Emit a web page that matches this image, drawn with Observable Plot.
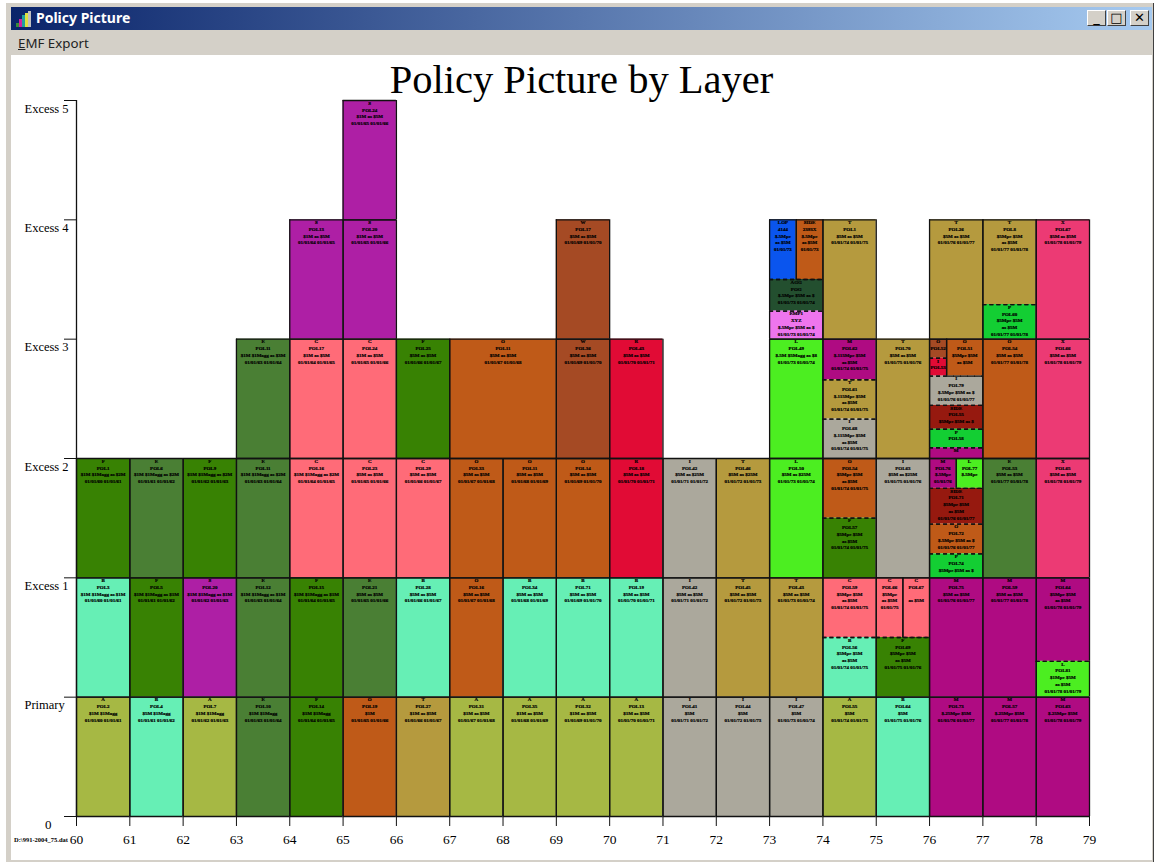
<!DOCTYPE html>
<html><head><meta charset="utf-8">
<script src="https://cdn.jsdelivr.net/npm/d3@7"></script>
<script src="https://cdn.jsdelivr.net/npm/@observablehq/plot@0.6"></script>
<style>
html,body{margin:0;padding:0;background:#fff;overflow:hidden}
#page{position:relative;width:1158px;height:863px;overflow:hidden;background:#fff}
.abs{position:absolute}
#win{left:6px;top:3px;width:1148px;height:859px;background:#D4D0C8;border-right:1px solid #404040;box-sizing:border-box}
#bar{left:11px;top:7px;width:1141px;height:23px;background:linear-gradient(90deg,#0A246A,#A6CAF0)}
#cap{left:36px;top:9px;color:#fff;font:bold 14px "Noto Sans",sans-serif;line-height:18px;white-space:nowrap}
#menu{left:18px;top:35px;font:13.3px "Noto Sans",sans-serif;color:#222;line-height:17px}
#client{left:11px;top:55px;width:1141px;height:805px;background:#fff}
#title{left:11px;top:56px;width:1141px;text-align:center;font:40.5px "Liberation Serif",serif;line-height:48px;color:#000}
#foot{left:14px;top:836px;font:bold 6.5px "Liberation Serif",serif;color:#000;white-space:nowrap}
.btn{top:10px;width:19px;height:16px;background:#D4D0C8;border:1px solid;border-color:#fff #404040 #404040 #fff;box-sizing:border-box;font:bold 13px "DejaVu Sans",sans-serif;line-height:14px;text-align:center;color:#000}
.ic{bottom:0;width:3px}
</style></head><body>
<div id="page">
<div class="abs" id="win"></div>
<div class="abs" id="bar"></div>
<div class="abs" style="left:16px;top:10px;width:15px;height:17px">
<div class="abs ic" style="left:0;height:4px;background:#3a8a3a"></div>
<div class="abs ic" style="left:3px;height:8px;background:#d020a0"></div>
<div class="abs ic" style="left:6px;height:12px;background:#20a0a0"></div>
<div class="abs ic" style="left:9px;height:14px;background:#e0e040"></div>
<div class="abs ic" style="left:12px;height:16px;background:#c0c0c0"></div>
</div>
<div class="abs" id="cap">Policy Picture</div>
<div class="abs btn" style="left:1087px">_</div>
<div class="abs btn" style="left:1107px">□</div>
<div class="abs btn" style="left:1130px">✕</div>
<div class="abs" id="menu"><u>E</u>MF Export</div>
<div class="abs" id="client"></div>
<div class="abs" id="title">Policy Picture by Layer</div>
<div class="abs" id="foot">D:\991-2004_75.dat</div>
<div id="chart"></div>
</div>
<script>
// Category → colour
const categoryKeys = ["A","B","C","E","F","I","L","M","O","P","R","S","T","X","W","U","D","V","Z"];
const categoryColors = ["#A6B844","#66EFB5","#FF6B78","#4A7F34","#388203","#ABA89C","#4CEE21","#AF0B82","#BF5A18","#13CE33","#E10B35","#AE1FA5","#B59A3E","#EC3A74","#A54A24","#0A55EE","#234F2F","#EE75EE","#96190F"];

// Layer tick labels
const layerTicks = [1,2,3,4,5,6];
const layerLabels = ["Primary","Excess 1","Excess 2","Excess 3","Excess 4","Excess 5"];
const yearTicks = [60,61,62,63,64,65,66,67,68,69,70,71,72,73,74,75,76,77,78,79];

// Rows: from year, to year, bottom, top, category, heading, policy, terms, dated
const primaryLayer = [
 [60,61,0,1,"A","A","POL2","$1M $1Magg",1],[61,62,0,1,"B","B","POL4","$5M $1Magg",1],[62,63,0,1,"A","A","POL7","$1M $1Magg",1],
 [63,64,0,1,"E","E","POL10","$1M $1Magg",1],[64,65,0,1,"F","F","POL14","$1M $1Magg",1],[65,66,0,1,"O","O","POL19","$1M",1],
 [66,67,0,1,"T","T","POL27","$1M xs $5M",1],[67,68,0,1,"A","A","POL31","$1M xs $5M",1],[68,69,0,1,"A","A","POL35","$1M xs $5M",1],
 [69,70,0,1,"A","A","POL32","$1M xs $5M",1],[70,71,0,1,"A","A","POL13","$1M xs $5M",1],[71,72,0,1,"I","I","POL41","$5M",1],
 [72,73,0,1,"I","I","POL44","$5M",1],[73,74,0,1,"I","I","POL47","$5M",1],[74,75,0,1,"A","A","POL55","$5M",1],
 [75,76,0,1,"B","B","POL64","$5M",1],[76,77,0,1,"M","M","POL73","$.25Mpe $5M",1],[77,78,0,1,"M","M","POL57","$.25Mpe $5M",1],
 [78,79,0,1,"M","M","POL63","$.25Mpe $5M",1]
];
const excessOne = [
 [60,61,1,2,"B","B","POL3","$1M $1Magg xs $1M",1],[61,62,1,2,"F","F","POL5","$1M $1Magg xs $1M",1],[62,63,1,2,"S","S","POL20","$1M $1Magg xs $1M",1],
 [63,64,1,2,"E","E","POL12","$1M $1Magg xs $1M",1],[64,65,1,2,"F","F","POL15","$1M $1Magg xs $1M",1],[65,66,1,2,"E","E","POL21","$5M xs $5M",1],
 [66,67,1,2,"B","B","POL28","$5M xs $5M",1],[67,68,1,2,"O","O","POL16","$5M xs $5M",1],[68,69,1,2,"B","B","POL34","$5M xs $5M",1],
 [69,70,1,2,"B","B","POL71","$5M xs $5M",1],[70,71,1,2,"B","B","POL19","$5M xs $5M",1],[71,72,1,2,"I","I","POL42","$5M xs $5M",1],
 [72,73,1,2,"T","T","POL45","$5M xs $5M",1],[73,74,1,2,"T","T","POL43","$5M xs $5M",1],
 [74,75,1.5,2,"C","C","POL59","$5Mpe $5M\nxs $5M",1],[74,75,1,1.5,"B","B","POL56","$5Mpe $5M\nxs $5M",1],
 [75,75.5,1.5,2,"C","C","POL66","$5Mpe\nxs $5M",1],[75.5,76,1.5,2,"C","C","POL67","\nxs $5M",0],[75,76,1,1.5,"F","F","POL69","$5Mpe $5M\nxs $5M",1],
 [76,77,1,2,"M","M","POL75","$5M xs $5M",1],[77,78,1,2,"M","M","POL59","$5M xs $5M",1],
 [78,79,1.3,2,"M","M","POL64","$5Mpe $5M\nxs $5M",1],[78,79,1,1.3,"L","L","POL81","$1Mpe $5M\nxs $5M",1]
];
const excessTwo = [
 [60,61,2,3,"F","F","POL1","$1M $1Magg xs $2M",1],[61,62,2,3,"E","E","POL6","$1M $1Magg xs $2M",1],[62,63,2,3,"F","F","POL9","$1M $1Magg xs $2M",1],
 [63,64,2,3,"E","E","POL11","$1M $1Magg xs $2M",1],[64,65,2,3,"C","C","POL16","$1M $1Magg xs $2M",1],[65,66,2,3,"C","C","POL23","$5M xs $5M",1],
 [66,67,2,3,"C","C","POL29","$5M xs $5M",1],[67,68,2,3,"O","O","POL33","$5M xs $5M",1],[68,69,2,3,"O","O","POL11","$5M xs $5M",1],
 [69,70,2,3,"O","O","POL14","$5M xs $5M",1],[70,71,2,3,"R","R","POL18","$5M xs $5M",1],[71,72,2,3,"I","I","POL42","$5M xs $25M",1],
 [72,73,2,3,"T","T","POL46","$5M xs $25M",1],[73,74,2,3,"L","L","POL50","$5M xs $25M",1],
 [74,75,2.5,3,"O","O","POL54","$5Mpe $5M\nxs $5M",1],[74,75,2,2.5,"F","F","POL57","$5Mpe $5M\nxs $5M",1],[75,76,2,3,"I","I","POL63","$5M xs $25M",1],
 [76,76.5,2.75,3,"M","M","POL76","$.5Mpe",1],[76.5,77,2.75,3,"L","L","POL77","$.5Mpe",0],
 [76,77,2.45,2.75,"Z","SIDE","POL71","$5Mpe $5M\nxs $5M",1],[76,77,2.2,2.45,"O","O","POL72","$.5Mpe $5M xs $",1],[76,77,2,2.2,"P","P","POL74","$5Mpe $5M xs $",0],
 [77,78,2,3,"E","E","POL53","$5M xs $5M",1],[78,79,2,3,"X","X","POL65","$5M xs $5M",1]
];
const excessThree = [
 [63,64,3,4,"E","E","POL11","$1M $1Magg xs $3M",1],[64,65,3,4,"C","C","POL17","$1M xs $5M",1],[65,66,3,4,"C","C","POL24","$1M xs $5M",1],
 [66,67,3,4,"F","F","POL25","$5M xs $5M",1],[67,69,3,4,"O","O","POL11","$5M xs $5M",1],[69,70,3,4,"W","W","POL36","$5M xs $5M",1],
 [70,71,3,4,"R","R","POL43","$5M xs $5M",1],[73,74,3,4,"L","L","POL49","$.5M $5Magg xs $8",1],
 [74,75,3.66,4,"M","M","POL62","$.115Mpe $5M\nxs $5M",1],[74,75,3.33,3.66,"T","T","POL61","$.115Mpe $5M\nxs $5M",1],[74,75,3,3.33,"I","I","POL68","$.115Mpe $5M\nxs $5M",1],
 [75,76,3,4,"T","T","POL70","$5M xs $5M",1],
 [76,76.32,3.84,4,"W","O","POL52","",0],[76,76.32,3.69,3.84,"R","I","POL53","",0],[76.32,77,3.69,4,"O","O","POL51","$5Mpe $5M\nxs $5M",0],
 [76,77,3.445,3.69,"I","I","POL79","$.5Mpe $5M xs $",1],[76,77,3.245,3.445,"Z","SIDE","POL55","$5Mpe $5M xs $",0],[76,77,3.09,3.245,"P","P","POL58","",0],[76,77,3,3.09,"M","M","","",0],
 [77,78,3,4,"O","O","POL54","$5M xs $5M",1],[78,79,3,4,"X","X","POL66","$5M xs $5M",1]
];
const excessFour = [
 [64,65,4,5,"S","S","POL13","$1M xs $5M",1],[65,66,4,5,"S","S","POL20","$1M xs $5M",1],[69,70,4,5,"W","W","POL17","$5M xs $5M",1],
 [73,73.5,4.5,5,"U","LOP\n4144","","$.5Mpe\nxs $5M",1],[73.5,74,4.5,5,"O","SIDE\n2393X","","$.5Mpe\nxs $5M",1],
 [73,74,4.235,4.5,"D","AGG\nPOG","","$.5Mpe $5M xs $",1],[73,74,4,4.235,"V","EMP1\nXYZ","","$.5Mpe $5M xs $",1],
 [74,75,4,5,"T","T","POL1","$5M xs $5M",1],[76,77,4,5,"T","T","POL26","$5M xs $5M",1],
 [77,78,4.29,5,"T","T","POL8","$5Mpe $5M\nxs $5M",1],[77,78,4,4.29,"P","P","POL60","$5Mpe $5M\nxs $5M",1],[78,79,4,5,"X","X","POL67","$5M xs $5M",1]
];
const excessFive = [
 [65,66,5,6,"S","S","POL24","$1M xs $5M",1]
];

const cells = [primaryLayer,excessOne,excessTwo,excessThree,excessFour,excessFive].flat().map(([x0,x1,y0,y1,cat,head,pol,terms,dated]) => {
  const full = x1 - x0 >= 1;
  const dates = dated ? (full ? `01/01/${x0|0} 01/01/${(x0|0)+1}` : `01/01/${x0|0}`) : "";
  return {x0,x1,y0,y1,cat,label:[head,pol,terms,dates].filter(s => s!=="").join("\n")};
});
const horizontal = cells.flatMap(c => [{y:c.y0,x1:c.x0,x2:c.x1},{y:c.y1,x1:c.x0,x2:c.x1}]);
const whole = horizontal.filter(e => Number.isInteger(e.y));
const split = horizontal.filter(e => !Number.isInteger(e.y));
const ink = "#111";

const chart = Plot.plot({
  width:1158, height:863,
  marginLeft:76, marginRight:69, marginTop:100, marginBottom:47,
  x:{domain:[60,79]},
  y:{domain:[0,6]},
  color:{type:"ordinal",domain:categoryKeys,range:categoryColors},
  style:{position:"absolute",left:"0",top:"0",background:"transparent",maxWidth:"none"},
  marks:[
    Plot.rect(cells,{x1:"x0",x2:"x1",y1:"y0",y2:"y1",fill:"cat"}),
    Plot.ruleX(cells,{x:"x0",y1:"y0",y2:"y1",stroke:ink,strokeWidth:1.3}),
    Plot.ruleX(cells,{x:"x1",y1:"y0",y2:"y1",stroke:ink,strokeWidth:1.3}),
    Plot.ruleY(whole,{y:"y",x1:"x1",x2:"x2",stroke:ink,strokeWidth:1.3}),
    Plot.ruleY(split,{y:"y",x1:"x1",x2:"x2",stroke:ink,strokeWidth:1.3,strokeDasharray:"4,3"}),
    Plot.text(cells,{x:d=>(d.x0+d.x1)/2,y:"y1",text:"label",lineAnchor:"top",dy:-0.5,lineHeight:1.35,
      fontSize:5,fontWeight:"bold",fontFamily:"Liberation Serif",fill:"#000",stroke:"#000",strokeWidth:0.2}),
    Plot.ruleX([60],{y1:0,y2:6,stroke:ink,strokeWidth:1.3}),
    Plot.axisX({ticks:yearTicks,tickFormat:d=>String(d),tickSize:10,tickPadding:8,fontSize:13.5,
      fontFamily:"Liberation Serif",label:null,stroke:ink,fill:"#000"}),
    Plot.axisY({ticks:[0,...layerTicks],tickFormat:()=>"",tickSize:12,label:null,stroke:ink}),
    Plot.text(layerTicks,{x:()=>60,y:d=>d,text:d=>layerLabels[d-1],dx:-52,dy:8,fontSize:12.5,textAnchor:"start",
      fontFamily:"Liberation Serif",fill:"#000"}),
    Plot.text([0],{x:()=>60,y:d=>d,text:d=>String(d),dx:-25,dy:8,fontSize:13,textAnchor:"end",
      fontFamily:"Liberation Serif",fill:"#000"})
  ]
});
document.getElementById("chart").append(chart);
</script>
</body></html>
